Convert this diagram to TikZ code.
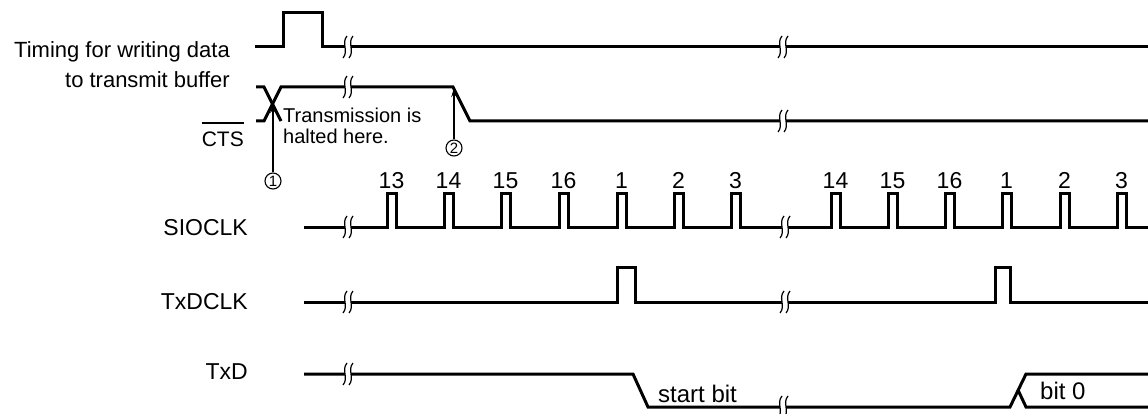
\documentclass[tikz,border=0pt]{standalone}
\usepackage{fontspec}
\setmainfont{Liberation Sans}
\usetikzlibrary{arrows.meta}
\begin{document}
\begin{tikzpicture}[x=1pt,y=-1pt,
  sig/.style={line width=3pt,line join=miter,line cap=butt},
  arr/.style={line width=1.2pt,-{Stealth[length=9pt,width=5.5pt]}},
  lbl/.style={inner sep=0pt,font=\fontsize{23}{26}\selectfont},
  txt/.style={inner sep=0pt,font=\fontsize{20}{24}\selectfont},
  num/.style={inner sep=0pt,font=\fontsize{23}{24}\selectfont,anchor=base},
  circ/.style={circle,draw,line width=1.1pt,inner sep=0pt,minimum size=16pt,font=\fontsize{15}{16}\selectfont},
  brk/.pic={
    \fill[white] (-3.2,-2.6) rectangle (3.2,2.6);
    \draw[line width=1.2pt] (-1,-11) .. controls (-7,-4) and (1,4) .. (-5,11);
    \draw[line width=1.2pt] (5,-11) .. controls (-1,-4) and (7,4) .. (1,11);
  }]
\useasboundingbox (0,0) rectangle (1148,414);
\fill[white] (0,0) rectangle (1148,414);

% ---- labels
\node[txt,anchor=base east,font=\fontsize{22}{24}\selectfont] (l1) at (230,58) {Timing for writing data};
\node[txt,anchor=base east,font=\fontsize{22}{24}\selectfont] (l2) at (230,88) {to transmit buffer};
\node[txt,anchor=base east,font=\fontsize{21}{24}\selectfont] (cts) at (244,147) {CTS};
\draw[line width=1.4pt] ([yshift=9pt]cts.north west) -- ([yshift=9pt]cts.north east);
\node[lbl,anchor=east] (sio) at (248,228) {SIOCLK};
\node[lbl,anchor=east] (txc) at (248,302) {TxDCLK};
\node[lbl,anchor=east] (txd) at (248,372) {TxD};

% ---- timing for writing
\draw[sig] (255,47) -- (283,47) -- (283,13) -- (322,13) -- (322,47) -- (1148,47);
\pic at (348,47) {brk};
\pic at (783,47) {brk};

% ---- CTS
\draw[sig] (256,87) -- (264,87) -- (281,121);
\draw[sig] (256,121) -- (264,121) -- (281,87) -- (453,87) -- (470,121) -- (1148,121);
\pic at (348,87) {brk};
\pic at (783,121) {brk};

\node[txt,anchor=base west] (t1) at (283,123) {Transmission is};
\node[txt,anchor=base west] (t2) at (283,144) {halted here.};

\node[circ] (c1) at (273,181) {1};
\coordinate (p1) at (273,104);
\draw[arr] (c1) -- (p1);
\node[circ] (c2) at (454,148) {2};
\coordinate (p2) at (454,88);
\draw[arr] (c2) -- (p2);

% ---- SIOCLK
\draw[sig] (304,227)
  foreach \s in {387,444,501,559,617,674,731,831,888,945,1002,1060,1117}
  { -- (\s,227) -- (\s,194) -- (\s+9,194) -- (\s+9,227) } -- (1148,227);
\foreach \s/\n in {387/13,444/14,501/15,559/16,617/1,674/2,731/3,831/14,888/15,945/16,1002/1,1060/2,1117/3}
  \node[num] at (\s+4.5,189) {\n};
\pic at (348,227) {brk};
\pic at (785,227) {brk};

% ---- TxDCLK
\draw[sig] (304,302) -- (617,302) -- (617,267) -- (635,267) -- (635,302)
  -- (995,302) -- (995,267) -- (1010,267) -- (1010,302) -- (1148,302);
\pic at (348,302) {brk};
\pic at (785,302) {brk};

% ---- TxD
\draw[sig] (304,374) -- (633,374) -- (648,407) -- (1010,407) -- (1026,374) -- (1148,374);
\draw[sig] (1018,390) -- (1026,407) -- (1148,407);
\pic at (348,374) {brk};
\pic at (783,407) {brk};
\node[lbl,anchor=base west,font=\fontsize{24}{26}\selectfont] (sb) at (658,402) {start bit};
\node[lbl,anchor=base west,font=\fontsize{24}{26}\selectfont] (b0) at (1040,399) {bit 0};
\end{tikzpicture}
\end{document}
